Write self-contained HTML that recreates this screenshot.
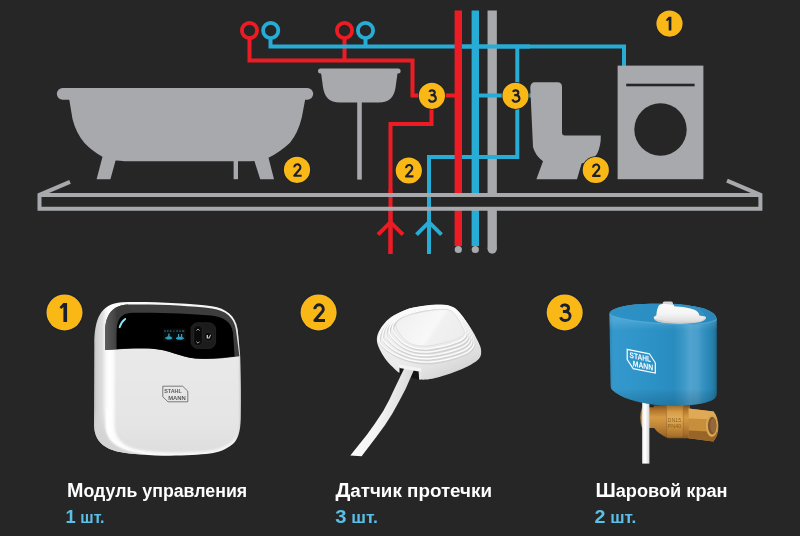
<!DOCTYPE html>
<html lang="ru">
<head>
<meta charset="utf-8">
<title>Stahlmann</title>
<style>
html,body{margin:0;padding:0;background:#262626;}
body{width:800px;height:536px;overflow:hidden;font-family:"Liberation Sans",sans-serif;}
svg{display:block;will-change:transform;}
.t{font-family:"Liberation Sans",sans-serif;font-weight:bold;font-size:18px;fill:#ffffff;}
.t .c{font-size:20px;}
.q{font-family:"Liberation Sans",sans-serif;font-weight:bold;font-size:16.8px;fill:#5bc0e7;}
.q .n{font-size:19.2px;}
.bn{font-family:"Liberation Sans",sans-serif;font-weight:bold;fill:#1d2230;text-anchor:middle;}
</style>
</head>
<body>
<svg width="800" height="536" viewBox="0 0 800 536">
<rect width="800" height="536" fill="#262626"/>

<!-- ============ TOP DIAGRAM ============ -->
<g id="diagram" fill="none">
  <!-- red thin -->
  <g stroke="#ed1c24" stroke-width="4" stroke-linejoin="miter">
    <path d="M249.5 39 V60.5 H412.5 V95.5 H458"/>
    <path d="M344.5 39 V60.5"/>
    <path d="M431.5 95.5 V124 H390.5 V254"/>
  </g>
  <!-- blue horizontal supply (behind mains) -->
  <g stroke="#27acd6" stroke-width="4" stroke-linejoin="miter">
    <path d="M270.5 39 V46.5 H624 V66"/>
    <path d="M365.5 39 V46.5"/>
    <path d="M517.3 46.5 V157 H429 V254"/>
  </g>
  <!-- mains -->
  <path d="M458.3 10.5 V246" stroke="#ed1c24" stroke-width="7.4"/>
  <path d="M475.3 10.5 V246" stroke="#27acd6" stroke-width="7.4"/>
  <path d="M492.2 10.5 V249" stroke="#a7a9ac" stroke-width="9.3" stroke-linecap="butt"/>
  <circle cx="492.2" cy="249" r="4.65" fill="#a7a9ac"/>
  <circle cx="458.3" cy="249.5" r="3.6" fill="#a7a9ac"/>
  <circle cx="475.3" cy="249.5" r="3.6" fill="#a7a9ac"/>
  <!-- blue horizontals in front of blue/grey mains -->
  <g stroke="#27acd6" stroke-width="4">
    <path d="M462 46.5 H530"/>
    <path d="M475 95.5 H531"/>
    <path d="M462 157 H519"/>
  </g>
  <!-- slab fill hides mains -->
  <rect x="39.5" y="194.9" width="721" height="14" fill="#262626"/>
  <!-- thin branches over slab fill -->
  <path d="M390.5 190 V254" stroke="#ed1c24" stroke-width="4"/>
  <path d="M429 190 V254" stroke="#27acd6" stroke-width="4"/>
  <!-- arrows -->
  <path d="M378 234.6 L390.5 222.2 L403 234.6" stroke="#ed1c24" stroke-width="4"/>
  <path d="M416.5 234.6 L429 222.2 L441.5 234.6" stroke="#27acd6" stroke-width="4"/>
  <!-- slab outline -->
  <path d="M70 181.8 L39.5 194.9 V208.8 H760.4 V194.9 L727 180.6" stroke="#a7a9ac" stroke-width="4" stroke-linejoin="miter"/>
  <path d="M39.5 194.9 H760.4" stroke="#a7a9ac" stroke-width="4"/>
  <!-- tap circles -->
  <circle cx="249.5" cy="30.5" r="7.6" stroke="#ed1c24" stroke-width="3.8"/>
  <circle cx="270.7" cy="30.5" r="7.6" stroke="#27acd6" stroke-width="3.8"/>
  <circle cx="344.5" cy="30.5" r="7.6" stroke="#ed1c24" stroke-width="3.8"/>
  <circle cx="365.5" cy="30.5" r="7.6" stroke="#27acd6" stroke-width="3.8"/>
</g>

<!-- fixtures -->
<g fill="#a7a9ac">
  <!-- bathtub -->
  <rect x="56.8" y="88" width="256.4" height="11.7" rx="5.85"/>
  <path d="M68.5 95 L72.5 119 Q76 133 84.5 143 Q92 151 102.5 156.8 L96.6 179.2 H110.4 L115.6 160.6 Q120 161 124.5 161.2 H245.5 Q250 161.2 254.4 161 L260.2 179.2 H274 L268.5 157.8 Q280 152 290 142.7 Q298 133 301.8 117.5 L306 95 Z"/>
  <rect x="233.6" y="160" width="4.4" height="19.2"/>
  <!-- sink -->
  <rect x="318" y="68.4" width="82.6" height="5" rx="2.5"/>
  <path d="M320.8 71 L322.9 86.5 C324.4 97 329 102.5 340 102.5 H378.6 C389.6 102.5 394.2 97 395.7 86.5 L397.8 71 Z"/>
  <rect x="357.2" y="100" width="4.6" height="79.6"/>
  <!-- toilet -->
  <path d="M535 82.2 H557.5 Q562 82.2 562 86.7 V133 Q562 135.4 564.4 135.4 H600.8 Q601 146 597 154 Q592 161 581.6 163.4 L577 179.2 H536.4 L543 161.2 Q535.5 156 533 147 L530.3 88 Q530.3 82.2 535 82.2 Z"/>
  <!-- washer -->
  <rect x="617.6" y="65.6" width="85.8" height="113.6"/>
</g>
<rect x="626.2" y="83.7" width="68.4" height="2.6" fill="#262626"/>
<circle cx="660.5" cy="129.5" r="26.2" fill="#262626"/>

<!-- small badges -->
<defs>
  <g id="bd">
    <circle r="19" fill="#1b2030"/>
    <circle r="18" fill="#fab817"/>
  </g>
  <g id="d1"><use href="#bd"/><path d="M-1.1 -9.5 H2.6 V9.6 H-1.1 V-5.4 L-3.2 -3.3 L-5 -5.1 Z" fill="#1b2030"/></g>
  <g id="d2"><use href="#bd"/><path d="M-3.7 -3.3 A4.2 4.2 0 1 1 4 -1.1 L-3.8 8.1 H6.4" fill="none" stroke="#1b2030" stroke-width="2.9" stroke-linejoin="round"/></g>
  <g id="d3"><use href="#bd"/><path d="M-3.5 -5.3 A3.8 3.3 0 1 1 0.3 -0.9 A4.9 4.5 0 1 1 -4.2 4.9 M-1.8 -0.9 H0.5" fill="none" stroke="#1b2030" stroke-width="2.9"/></g>
</defs>
<g id="badges">
  <use href="#d1" transform="translate(669.5 23.6) scale(0.728)"/>
  <use href="#d3" transform="translate(431.9 95.8) scale(0.728)"/>
  <use href="#d3" transform="translate(515.5 95.8) scale(0.728)"/>
  <use href="#d2" transform="translate(297 169.8) scale(0.728)"/>
  <use href="#d2" transform="translate(408.8 170.5) scale(0.728)"/>
  <use href="#d2" transform="translate(595.8 170) scale(0.728)"/>
</g>

<!-- ============ BOTTOM PRODUCTS ============ -->
<!-- ===== product 1: control module ===== -->
<defs>
  <linearGradient id="mBody" gradientUnits="userSpaceOnUse" x1="94" y1="0" x2="241" y2="0">
    <stop offset="0" stop-color="#bcbcbc"/>
    <stop offset="0.018" stop-color="#d0d0d0"/>
    <stop offset="0.055" stop-color="#dddddd"/>
    <stop offset="0.078" stop-color="#f4f4f4"/>
    <stop offset="0.1" stop-color="#ffffff"/>
    <stop offset="0.14" stop-color="#fbfbfb"/>
    <stop offset="0.95" stop-color="#f4f4f4"/>
    <stop offset="0.985" stop-color="#dcdcdc"/>
    <stop offset="1" stop-color="#c0c0c0"/>
  </linearGradient>
  <linearGradient id="mFace" gradientUnits="userSpaceOnUse" x1="0" y1="350" x2="0" y2="453">
    <stop offset="0" stop-color="#e9e9e9"/>
    <stop offset="0.7" stop-color="#e5e5e5"/>
    <stop offset="1" stop-color="#dedede"/>
  </linearGradient>
  <linearGradient id="mGlossL" gradientUnits="userSpaceOnUse" x1="105" y1="0" x2="117" y2="0">
    <stop offset="0" stop-color="#5c5c5c"/>
    <stop offset="0.75" stop-color="#474747"/>
    <stop offset="1" stop-color="#3a3a3a"/>
  </linearGradient>
  <linearGradient id="mBev" gradientUnits="userSpaceOnUse" x1="0" y1="408" x2="0" y2="432">
    <stop offset="0" stop-color="#d8d8d8" stop-opacity="0"/>
    <stop offset="1" stop-color="#d4d4d4" stop-opacity="1"/>
  </linearGradient>
  <filter id="mBlur" x="-5%" y="-5%" width="110%" height="110%"><feGaussianBlur stdDeviation="0.9"/></filter>
  <clipPath id="mClip"><path d="M94.3 345 C94.3 320 100 303.5 122 302.3 C150 301.5 190 303.5 212 306.3 C226 308.4 235.6 316 237.6 329 L240.2 356 C241 380 241.2 400 240.8 418 C240.4 432 238 440 232.2 444.6 C226 449.6 219 452.4 210 453.6 C200 454.9 185 455.6 170 455.8 C150 455.6 130 454 120 452 C105 449 94.5 442 94 425 Z"/></clipPath>
</defs>
<g id="module">
  <path d="M94.3 345 C94.3 320 100 303.5 122 302.3 C150 301.5 190 303.5 212 306.3 C226 308.4 235.6 316 237.6 329 L240.2 356 C241 380 241.2 400 240.8 418 C240.4 432 238 440 232.2 444.6 C226 449.6 219 452.4 210 453.6 C200 454.9 185 455.6 170 455.8 C150 455.6 130 454 120 452 C105 449 94.5 442 94 425 Z" fill="url(#mBody)"/>
  <g clip-path="url(#mClip)">
    <!-- corner bevel -->
    <path d="M93 408 L93 425 C93.5 444 105 450 120 453 C127 454.4 134 455.2 142 455.6 L142 453.4 C131 451.6 121.6 449 115.6 444.6 C109 440 105.6 433.4 105 426 L104.8 408 Z" fill="url(#mBev)" filter="url(#mBlur)"/>
    <path d="M107.6 408 L107.8 426 C108.4 433 111.4 439 117 443.2 C123 447.6 132 450.6 144 452.2" fill="none" stroke="#ffffff" stroke-width="2.6" filter="url(#mBlur)"/>
    <!-- front face -->
    <path d="M114.6 330 L114.6 425 C115 438 122 446 137 449.4 C150 451.8 165 452.4 175 452.4 C190 452.2 203 451.4 210 450.4 C222 448.8 232 444 236 436 C238.6 430 239.2 422 239.2 415 L238.6 330 Z" fill="url(#mFace)" filter="url(#mBlur)"/>
    <!-- glossy panel: grey rim -->
    <path d="M105 350 V334 C105 316 111 305.4 128 304.6 C150 303.8 190 305.4 212 308.4 C226 310.6 234 317 236 330 L239.4 356.2 C225 358.2 210 359.6 195.5 358.6 C180 357.4 170 349.6 150 348.6 C135 348.2 120 349 105 350 Z" fill="#3d3d3d"/>
    <path d="M105 350 V334 C105 316 111 305.4 128 304.6 L132 312.6 C121 313.4 116.6 320 116.6 334 V349.2 Z" fill="url(#mGlossL)"/>
  </g>
  <!-- black inner -->
  <path d="M116.6 349.2 V334 C116.6 320 120 313.4 132 312.8 C150 312.2 190 313.2 211 315.6 C224 317.2 231.6 322 233 333 L234.6 356.6 C222 358.2 209 359.4 195.5 358.4 C180 357.2 170 349.4 150 348.4 C138 348 127 348.6 116.6 349.2 Z" fill="#000"/>
  <!-- LED -->
  <path d="M119.6 327.2 Q121 322 125.2 318.9" fill="none" stroke="#8fe6f7" stroke-width="1.9" stroke-linecap="round"/>
  <!-- display -->
  <rect x="163.2" y="328.6" width="22.6" height="12.8" rx="0.8" fill="#0b0b0b"/>
  <g fill="#2b9fc4">
    <g opacity="0.7"><rect x="164.2" y="330.4" width="1.5" height="1.3"/><rect x="167" y="330.4" width="1.5" height="1.3"/><rect x="169.8" y="330.4" width="1.5" height="1.3"/><rect x="173.2" y="330.6" width="1.2" height="1.1"/><rect x="176.4" y="330.4" width="1.5" height="1.3"/><rect x="179.2" y="330.4" width="1.5" height="1.3"/><rect x="182" y="330.4" width="2.2" height="1.3"/></g>
    <rect x="166.4" y="336.6" width="5" height="3" rx="0.8"/><rect x="168.2" y="333.6" width="1.4" height="3.4"/><rect x="165.2" y="337.4" width="1.6" height="1.4"/><rect x="171" y="337.4" width="1.2" height="1.4"/>
    <rect x="177" y="336.8" width="5.8" height="3" rx="0.8"/><rect x="178" y="334" width="1.2" height="3"/><rect x="181" y="334" width="1.2" height="3"/><rect x="176" y="337.6" width="1.4" height="1.4"/><rect x="182.4" y="337.6" width="1.4" height="1.4"/>
  </g>
  <!-- buttons -->
  <rect x="191" y="322.8" width="24.6" height="25.6" rx="6.5" fill="#1c1c1c" stroke="#272727" stroke-width="0.8"/>
  <rect x="193.6" y="325.6" width="8.8" height="20.2" rx="4.2" fill="#0b0b0b" stroke="#2e2e2e" stroke-width="0.7"/>
  <circle cx="208.4" cy="336.6" r="4.5" fill="#0c0c0c" stroke="#303030" stroke-width="0.7"/>
  <path d="M196.4 330.6 L198 329 L199.6 330.6 M196.4 341.6 L198 343.2 L199.6 341.6" fill="none" stroke="#b4b4b4" stroke-width="0.9"/>
  <path d="M206.6 335 H208 V337.4 H208.8 L210.2 334.6 L211 335 L209.6 338.4 H206.6 Z" fill="#c4c4c4"/>
  <!-- logo -->
  <path d="M162.8 386.2 H182.6 L187.8 391.2 V401.8 H168 L162.8 396.8 Z" fill="none" stroke="#606060" stroke-width="0.8"/>
  <g font-family="Liberation Sans, sans-serif" font-weight="bold" font-size="5.9" fill="#5a5a5a">
    <text x="164.2" y="393.2" textLength="17.6" lengthAdjust="spacingAndGlyphs">STAHL</text>
    <text x="168.2" y="399.9" textLength="17.6" lengthAdjust="spacingAndGlyphs">MANN</text>
  </g>
</g>

<!-- ===== product 2: leak sensor ===== -->
<defs>
  <linearGradient id="sBody" gradientUnits="userSpaceOnUse" x1="410" y1="305" x2="445" y2="382">
    <stop offset="0" stop-color="#f0f0f0"/>
    <stop offset="0.6" stop-color="#eaeaea"/>
    <stop offset="0.8" stop-color="#e0e0e0"/>
    <stop offset="1" stop-color="#d2d2d2"/>
  </linearGradient>
  <linearGradient id="sTop" gradientUnits="userSpaceOnUse" x1="400" y1="312" x2="455" y2="348">
    <stop offset="0" stop-color="#f0f0f0"/>
    <stop offset="0.55" stop-color="#f8f8f8"/>
    <stop offset="0.62" stop-color="#f1f1f1"/>
    <stop offset="1" stop-color="#ededed"/>
  </linearGradient>
  <linearGradient id="sCable" x1="0" y1="0" x2="1" y2="0.25">
    <stop offset="0" stop-color="#ffffff"/>
    <stop offset="0.55" stop-color="#f4f4f4"/>
    <stop offset="1" stop-color="#d6d6d6"/>
  </linearGradient>
  <filter id="sBlur" x="-10%" y="-10%" width="120%" height="120%"><feGaussianBlur stdDeviation="0.55"/></filter>
</defs>
<g id="sensor">

  <path d="M441.3 304.6 C445.6 304.9 448.7 305.1 452.0 306.9 C455.3 308.7 458.1 311.9 461.2 315.3 C464.3 318.7 467.6 323.2 470.4 327.5 C473.2 331.8 476.2 337.5 478.0 341.3 C479.8 345.1 481.0 347.6 481.1 350.5 C481.2 353.4 481.4 356.1 478.8 358.9 C476.2 361.7 470.5 364.9 465.8 367.3 C461.1 369.7 455.6 371.6 450.5 373.4 C445.4 375.2 439.3 377.0 435.2 378.0 C431.1 379.0 428.5 379.4 426.0 379.6 C423.5 379.8 422.9 379.9 420.2 379.3 C417.5 378.8 413.4 377.4 410.0 376.3 C406.6 375.2 402.5 374.5 399.6 373.0 C396.7 371.5 395.1 369.5 392.7 367.1 C390.3 364.7 387.4 361.7 385.2 358.7 C383.0 355.7 381.0 352.3 379.6 349.3 C378.2 346.3 377.1 343.4 376.9 340.5 C376.7 337.6 377.3 335.0 378.6 332.1 C379.9 329.2 382.1 325.7 384.7 322.9 C387.2 320.1 389.8 317.7 393.9 315.3 C398.0 312.9 403.8 310.0 409.2 308.4 C414.6 306.8 420.6 306.0 426.0 305.4 C431.4 304.8 437.0 304.4 441.3 304.6Z" fill="url(#sBody)"/>
  <path d="M399.6 366.6 L419.4 370.6 L419.6 380 L399.4 374 Z" fill="#141414"/>
  <path d="M404.4 368 L395.4 386.7 Q389.5 400 383.1 411.3 Q375 424 366.7 434.9 L350.3 455.5 L361.6 456.2 L377 436 Q385.5 425 392.4 413.4 Q399.5 401 405.7 388.7 L413.9 370 Z" fill="url(#sCable)"/>
  <path d="M398.6 364.2 L421 368.2 Q421.6 370 421.2 372 L418.6 371.6 L399.6 368 Q398.2 366 398.6 364.2 Z" fill="#f3f3f3"/>
  <path d="M418.6 371.4 L421.2 371.8 L421.4 379.4 L419.2 379.4 Z" fill="#e4e4e4"/>
  <g fill="none" filter="url(#sBlur)">
    <path d="M441.7 307.0 C446.3 307.3 450.4 307.4 454.0 309.3 C457.5 311.2 460.3 314.8 463.1 318.5 C465.9 322.2 468.9 327.0 470.8 331.5 C472.7 336.0 474.9 341.7 474.6 345.3 C474.4 348.8 472.2 350.7 469.3 352.9 C466.3 355.1 461.6 356.7 457.0 358.3 C452.4 359.8 446.6 361.2 441.7 362.1 C436.9 363.0 432.8 363.6 427.9 363.6 C423.1 363.6 417.5 363.1 412.6 362.1 C407.8 361.1 403.0 359.3 398.9 357.5 C394.8 355.7 391.2 353.7 388.2 351.4 C385.1 349.1 381.8 346.3 380.5 343.7 C379.2 341.2 379.8 338.9 380.5 336.1 C381.3 333.3 382.8 329.8 385.1 326.9 C387.4 324.0 390.2 321.2 394.3 318.5 C398.4 315.8 404.2 312.6 409.6 310.8 C414.9 309.1 421.1 308.4 426.4 307.8 C431.8 307.1 437.1 306.8 441.7 307.0Z" stroke="#d2d2d2" stroke-width="1.7"/>
    <path d="M441.0 305.6 C445.6 305.9 449.7 306.0 453.3 307.9 C456.8 309.8 459.6 313.4 462.4 317.1 C465.2 320.8 468.2 325.6 470.1 330.1 C472.0 334.6 474.2 340.3 473.9 343.9 C473.7 347.4 471.5 349.3 468.6 351.5 C465.6 353.7 460.9 355.3 456.3 356.9 C451.7 358.4 445.9 359.8 441.0 360.7 C436.2 361.6 432.1 362.2 427.2 362.2 C422.4 362.2 416.8 361.7 411.9 360.7 C407.1 359.7 402.3 357.9 398.2 356.1 C394.1 354.3 390.5 352.3 387.5 350.0 C384.4 347.7 381.1 344.9 379.8 342.3 C378.5 339.8 379.1 337.5 379.8 334.7 C380.6 331.9 382.1 328.4 384.4 325.5 C386.7 322.6 389.5 319.8 393.6 317.1 C397.7 314.4 403.5 311.2 408.9 309.4 C414.2 307.7 420.4 307.0 425.7 306.4 C431.1 305.7 436.4 305.4 441.0 305.6Z" stroke="#fcfcfc" stroke-width="1.3"/>
    <path d="M441.7 307.7 C446.2 307.9 450.0 308.0 453.3 309.8 C456.7 311.5 459.3 314.9 461.9 318.3 C464.5 321.8 467.3 326.5 469.1 330.6 C470.9 334.7 472.9 339.7 472.6 343.0 C472.3 346.2 470.2 348.0 467.4 350.0 C464.6 352.0 460.2 353.6 455.8 355.0 C451.4 356.4 445.7 357.8 441.1 358.7 C436.5 359.5 432.6 360.2 427.9 360.3 C423.3 360.3 417.8 359.9 413.3 358.9 C408.7 357.9 404.3 356.2 400.6 354.4 C396.8 352.7 393.5 350.6 390.8 348.3 C388.0 346.1 385.1 343.4 383.9 341.0 C382.7 338.6 383.1 336.5 383.7 333.9 C384.4 331.4 385.7 328.4 387.9 325.8 C390.0 323.2 392.6 320.7 396.4 318.3 C400.3 316.0 405.8 313.2 410.8 311.5 C415.9 309.9 421.6 309.3 426.7 308.6 C431.9 308.0 437.3 307.5 441.7 307.7Z" stroke="#d2d2d2" stroke-width="1.7"/>
    <path d="M441.0 306.3 C445.5 306.5 449.3 306.6 452.6 308.4 C456.0 310.1 458.6 313.5 461.2 316.9 C463.8 320.4 466.6 325.1 468.4 329.2 C470.2 333.3 472.2 338.3 471.9 341.6 C471.6 344.8 469.5 346.6 466.7 348.6 C463.9 350.6 459.5 352.2 455.1 353.6 C450.7 355.0 445.0 356.4 440.4 357.3 C435.8 358.1 431.9 358.8 427.2 358.9 C422.6 358.9 417.1 358.5 412.6 357.5 C408.0 356.5 403.6 354.8 399.9 353.0 C396.1 351.3 392.8 349.2 390.1 346.9 C387.3 344.7 384.4 342.0 383.2 339.6 C382.0 337.2 382.4 335.1 383.0 332.5 C383.7 330.0 385.0 327.0 387.2 324.4 C389.3 321.8 391.9 319.3 395.7 316.9 C399.6 314.6 405.1 311.8 410.1 310.1 C415.2 308.5 420.9 307.9 426.0 307.2 C431.2 306.6 436.6 306.1 441.0 306.3Z" stroke="#fcfcfc" stroke-width="1.3"/>
    <path d="M441.7 308.4 C446.0 308.5 449.6 308.6 452.7 310.2 C455.9 311.9 458.2 314.9 460.7 318.2 C463.1 321.4 465.8 325.9 467.4 329.7 C469.1 333.4 470.9 337.8 470.6 340.7 C470.3 343.6 468.3 345.3 465.6 347.1 C462.9 348.9 458.7 350.4 454.6 351.7 C450.4 353.1 444.9 354.4 440.5 355.2 C436.1 356.1 432.4 356.8 427.9 356.9 C423.5 357.0 418.2 356.6 413.9 355.7 C409.6 354.8 405.7 353.1 402.2 351.4 C398.8 349.7 395.9 347.5 393.4 345.3 C390.9 343.1 388.3 340.5 387.3 338.2 C386.2 336.0 386.4 334.0 386.9 331.8 C387.5 329.6 388.7 327.0 390.6 324.8 C392.6 322.5 395.0 320.3 398.6 318.2 C402.1 316.1 407.3 313.7 412.0 312.3 C416.8 310.8 422.1 310.1 427.0 309.4 C432.0 308.8 437.4 308.2 441.7 308.4Z" stroke="#d2d2d2" stroke-width="1.7"/>
    <path d="M441.0 307.0 C445.3 307.1 448.9 307.2 452.0 308.8 C455.2 310.5 457.5 313.5 460.0 316.8 C462.4 320.0 465.1 324.5 466.7 328.3 C468.4 332.0 470.2 336.4 469.9 339.3 C469.6 342.2 467.6 343.9 464.9 345.7 C462.2 347.5 458.0 349.0 453.9 350.3 C449.7 351.7 444.2 353.0 439.8 353.8 C435.4 354.7 431.7 355.4 427.2 355.5 C422.8 355.6 417.5 355.2 413.2 354.3 C408.9 353.4 405.0 351.7 401.5 350.0 C398.1 348.3 395.2 346.1 392.7 343.9 C390.2 341.7 387.6 339.1 386.6 336.8 C385.5 334.6 385.7 332.6 386.2 330.4 C386.8 328.2 388.0 325.6 389.9 323.4 C391.9 321.1 394.3 318.9 397.9 316.8 C401.4 314.7 406.6 312.3 411.3 310.9 C416.1 309.4 421.4 308.7 426.3 308.0 C431.3 307.4 436.7 306.8 441.0 307.0Z" stroke="#fcfcfc" stroke-width="1.3"/>
    <path d="M441.7 309.0 C445.8 309.1 449.2 309.2 452.1 310.7 C455.1 312.2 457.2 315.0 459.5 318.0 C461.7 321.0 464.2 325.4 465.7 328.7 C467.3 332.1 469.0 335.8 468.6 338.4 C468.3 341.0 466.3 342.5 463.7 344.2 C461.2 345.9 457.3 347.2 453.3 348.4 C449.4 349.7 444.1 351.0 439.9 351.8 C435.6 352.7 432.2 353.4 427.9 353.5 C423.7 353.6 418.5 353.3 414.5 352.5 C410.5 351.6 407.0 350.0 403.9 348.3 C400.8 346.6 398.2 344.3 396.0 342.2 C393.8 340.1 391.6 337.6 390.6 335.5 C389.6 333.4 389.7 331.6 390.2 329.7 C390.6 327.7 391.6 325.6 393.4 323.7 C395.1 321.8 397.4 319.8 400.7 318.0 C404.0 316.2 408.8 314.3 413.3 313.0 C417.7 311.7 422.6 310.9 427.3 310.3 C432.1 309.6 437.6 309.0 441.7 309.0Z" stroke="#d2d2d2" stroke-width="1.7"/>
    <path d="M441.0 307.6 C445.1 307.7 448.5 307.8 451.4 309.3 C454.4 310.8 456.5 313.6 458.8 316.6 C461.0 319.6 463.5 324.0 465.0 327.3 C466.6 330.7 468.3 334.4 467.9 337.0 C467.6 339.6 465.6 341.1 463.0 342.8 C460.5 344.5 456.6 345.8 452.6 347.0 C448.7 348.3 443.4 349.6 439.2 350.4 C434.9 351.3 431.5 352.0 427.2 352.1 C423.0 352.2 417.8 351.9 413.8 351.1 C409.8 350.2 406.3 348.6 403.2 346.9 C400.1 345.2 397.5 342.9 395.3 340.8 C393.1 338.7 390.9 336.2 389.9 334.1 C388.9 332.0 389.0 330.2 389.5 328.3 C389.9 326.3 390.9 324.2 392.7 322.3 C394.4 320.4 396.7 318.4 400.0 316.6 C403.3 314.8 408.1 312.9 412.6 311.6 C417.0 310.3 421.9 309.5 426.6 308.9 C431.4 308.2 436.9 307.6 441.0 307.6Z" stroke="#fcfcfc" stroke-width="1.3"/>
    <path d="M441.7 309.7 C445.7 309.7 448.8 309.8 451.5 311.2 C454.3 312.5 456.1 315.1 458.2 317.9 C460.3 320.7 462.6 324.8 464.1 327.8 C465.5 330.9 467.0 333.8 466.7 336.1 C466.3 338.3 464.3 339.8 461.9 341.3 C459.5 342.8 455.9 344.0 452.1 345.2 C448.3 346.4 443.3 347.6 439.3 348.4 C435.2 349.2 432.0 350.0 427.9 350.2 C423.9 350.3 418.8 350.1 415.1 349.2 C411.4 348.4 408.4 347.0 405.6 345.3 C402.9 343.6 400.5 341.2 398.6 339.1 C396.6 337.1 394.8 334.7 394.0 332.7 C393.1 330.8 393.0 329.2 393.4 327.5 C393.7 325.8 394.5 324.2 396.1 322.6 C397.7 321.0 399.8 319.4 402.9 317.9 C405.9 316.4 410.4 314.8 414.5 313.7 C418.6 312.5 423.1 311.7 427.6 311.1 C432.2 310.4 437.7 309.7 441.7 309.7Z" stroke="#d2d2d2" stroke-width="1.7"/>
    <path d="M441.0 308.3 C445.0 308.3 448.1 308.4 450.8 309.8 C453.6 311.1 455.4 313.7 457.5 316.5 C459.6 319.3 461.9 323.4 463.4 326.4 C464.8 329.5 466.3 332.4 466.0 334.7 C465.6 336.9 463.6 338.4 461.2 339.9 C458.8 341.4 455.2 342.6 451.4 343.8 C447.6 345.0 442.6 346.2 438.6 347.0 C434.5 347.8 431.3 348.6 427.2 348.8 C423.2 348.9 418.1 348.7 414.4 347.8 C410.7 347.0 407.7 345.6 404.9 343.9 C402.2 342.2 399.8 339.8 397.9 337.7 C395.9 335.7 394.1 333.3 393.3 331.3 C392.4 329.4 392.3 327.8 392.7 326.1 C393.0 324.4 393.8 322.8 395.4 321.2 C397.0 319.6 399.1 318.0 402.2 316.5 C405.2 315.0 409.7 313.4 413.8 312.3 C417.9 311.1 422.4 310.3 426.9 309.7 C431.5 309.0 437.0 308.3 441.0 308.3Z" stroke="#fcfcfc" stroke-width="1.3"/>
  </g>
  <path d="M441.3 309.5 C445.1 309.4 447.9 309.5 450.5 310.7 C453.0 311.9 454.7 314.3 456.6 316.8 C458.5 319.4 460.7 323.3 462.0 326.0 C463.2 328.7 464.6 331.0 464.3 332.9 C463.9 334.8 462.0 336.1 459.7 337.5 C457.4 338.8 454.1 339.9 450.5 341.0 C446.9 342.1 442.1 343.2 438.3 344.1 C434.4 344.9 431.4 345.7 427.5 345.9 C423.7 346.1 418.7 345.9 415.3 345.1 C411.9 344.4 409.3 343.0 406.9 341.3 C404.5 339.6 402.4 337.2 400.8 335.2 C399.1 333.1 397.7 330.9 396.9 329.1 C396.2 327.3 395.9 325.9 396.2 324.5 C396.4 323.1 397.1 321.9 398.5 320.7 C399.9 319.4 401.8 318.0 404.6 316.8 C407.4 315.6 411.5 314.4 415.3 313.5 C419.1 312.5 423.2 311.7 427.5 311.0 C431.9 310.4 437.5 309.5 441.3 309.5Z" fill="url(#sTop)" stroke="#dcdcdc" stroke-width="0.7"/>
</g>

<!-- ===== product 3: ball valve ===== -->
<defs>
  <linearGradient id="vBody" gradientUnits="userSpaceOnUse" x1="609.4" y1="0" x2="716.8" y2="0">
    <stop offset="0" stop-color="#2b86b8"/>
    <stop offset="0.035" stop-color="#3598cc"/>
    <stop offset="0.2" stop-color="#3196ca"/>
    <stop offset="0.45" stop-color="#2b90c4"/>
    <stop offset="0.6" stop-color="#298cbf"/>
    <stop offset="0.68" stop-color="#3a96c6"/>
    <stop offset="0.75" stop-color="#4fa3ce"/>
    <stop offset="0.82" stop-color="#4a9fca"/>
    <stop offset="0.88" stop-color="#3390c0"/>
    <stop offset="0.93" stop-color="#2987b6"/>
    <stop offset="0.97" stop-color="#267ba6"/>
    <stop offset="1" stop-color="#206788"/>
  </linearGradient>
  <linearGradient id="vTop" gradientUnits="userSpaceOnUse" x1="612" y1="0" x2="716" y2="0">
    <stop offset="0" stop-color="#2e91c5"/>
    <stop offset="0.5" stop-color="#2b8ec2"/>
    <stop offset="1" stop-color="#2a88b8"/>
  </linearGradient>
  <linearGradient id="vShade" gradientUnits="userSpaceOnUse" x1="0" y1="320" x2="0" y2="406">
    <stop offset="0" stop-color="#9ad4ee" stop-opacity="0.25"/>
    <stop offset="0.12" stop-color="#9ad4ee" stop-opacity="0"/>
    <stop offset="0.8" stop-color="#000" stop-opacity="0"/>
    <stop offset="1" stop-color="#04263a" stop-opacity="0.22"/>
  </linearGradient>
  <linearGradient id="vBrass" gradientUnits="userSpaceOnUse" x1="0" y1="405" x2="0" y2="440">
    <stop offset="0" stop-color="#7a4e1c"/>
    <stop offset="0.15" stop-color="#b0752c"/>
    <stop offset="0.35" stop-color="#d69a44"/>
    <stop offset="0.55" stop-color="#c58a3a"/>
    <stop offset="0.8" stop-color="#a8702c"/>
    <stop offset="1" stop-color="#805420"/>
  </linearGradient>
  <linearGradient id="vBrass2" gradientUnits="userSpaceOnUse" x1="0" y1="405" x2="0" y2="440">
    <stop offset="0" stop-color="#9a6826"/>
    <stop offset="0.2" stop-color="#d69d48"/>
    <stop offset="0.4" stop-color="#e4ae58"/>
    <stop offset="0.6" stop-color="#cd933e"/>
    <stop offset="0.85" stop-color="#ad742e"/>
    <stop offset="1" stop-color="#8a5c24"/>
  </linearGradient>
  <linearGradient id="vKnob" gradientUnits="userSpaceOnUse" x1="0" y1="301" x2="0" y2="324">
    <stop offset="0" stop-color="#ffffff"/>
    <stop offset="0.55" stop-color="#f4f4f4"/>
    <stop offset="0.8" stop-color="#e4e4e4"/>
    <stop offset="1" stop-color="#cfcfcf"/>
  </linearGradient>
  <linearGradient id="vCable" gradientUnits="userSpaceOnUse" x1="642" y1="0" x2="649.4" y2="0">
    <stop offset="0" stop-color="#ededed"/>
    <stop offset="0.45" stop-color="#ffffff"/>
    <stop offset="1" stop-color="#d4d4d4"/>
  </linearGradient>
</defs>
<g id="valve">
  <!-- brass body -->
  <path d="M642 407.2 H654.6 V428 H642 Q640.4 424 640.4 417.6 Q640.4 411 642 407.2 Z" fill="url(#vBrass)"/>
  <path d="M653.8 405.4 H690 V438.2 H668 Q658 434 653.8 427.6 Z" fill="url(#vBrass)"/>
  <rect x="666" y="404" width="17.6" height="33" fill="url(#vBrass2)"/>
  <rect x="666" y="404" width="0.9" height="33" fill="#7a4e1c" opacity="0.45"/>
  <rect x="682.8" y="404" width="0.9" height="33.4" fill="#7a4e1c" opacity="0.45"/>
  <!-- right hex nut -->
  <path d="M688.6 408.4 L713.6 411.4 Q718.4 417.6 718.4 426 Q718.4 435.6 713.4 441.4 L688.6 438.2 Z" fill="#c78e3c"/>
  <path d="M688.6 408.4 L713.6 411.4 Q716 414.6 717 419.4 L688.6 418.4 Z" fill="#dfa955"/>
  <path d="M688.6 430.4 L717.6 432 Q716.4 437.8 713.4 441.4 L688.6 438.2 Z" fill="#986528"/>
  <ellipse cx="711.8" cy="425.8" rx="5.9" ry="11.2" fill="#dba652"/>
  <ellipse cx="712.2" cy="425.6" rx="4.3" ry="8.8" fill="#7e5530"/>
  <ellipse cx="713.2" cy="425.6" rx="3" ry="7.4" fill="#946838"/>
  <g font-family="Liberation Sans, sans-serif" font-size="4.8" fill="#8a5e26">
    <text x="667.6" y="422" textLength="13.6" lengthAdjust="spacingAndGlyphs">DN15</text>
    <text x="667.6" y="428.4" textLength="13.6" lengthAdjust="spacingAndGlyphs">PN40</text>
  </g>
  <!-- cable -->
  <rect x="642.2" y="398" width="7.2" height="65.6" fill="url(#vCable)"/>
  <!-- blue actuator -->
  <path d="M609.4 314 C609.4 310 618 306.4 635 304.6 C655 302.6 690 304 704 308.6 C712.6 311.6 716.8 315.4 716.8 319.6 L716.8 394 C716.6 398.4 712 401 704 403 C694 405.2 680 406.4 668 405.8 C650 404.8 630 401 620 395.4 C613 391.4 610.8 389.6 610.6 386 Z" fill="url(#vBody)"/>
  <path d="M609.4 314 C609.4 310 618 306.4 635 304.6 C655 302.6 690 304 704 308.6 C712.6 311.6 716.8 315.4 716.8 319.6 L716.8 394 C716.6 398.4 712 401 704 403 C694 405.2 680 406.4 668 405.8 C650 404.8 630 401 620 395.4 C613 391.4 610.8 389.6 610.6 386 Z" fill="url(#vShade)"/>
  <!-- top face -->
  <path d="M609.6 314 C609.4 310 618 306.4 635 304.6 C655 302.6 690 304 704 308.6 C712.6 311.6 716.6 315.4 716.6 319.4 C713 322.6 702 324.4 687.5 324.4 C670 324.4 655 323.4 642.5 322 C630 320.4 622 318.8 616 317 C611.6 315.8 609.6 315 609.6 314 Z" fill="url(#vTop)"/>
  <path d="M609.8 314.4 C611.6 315.8 616 317.2 622 318.6 C630 320.4 640 321.8 652 322.8 C665 323.8 678 324.4 690 324.2 C702 324 712 322.6 716.4 319.8" fill="none" stroke="#55abd8" stroke-width="1.3" opacity="0.8"/>
  <!-- knob -->
  <ellipse cx="679.8" cy="317.8" rx="26.2" ry="5.6" fill="#ededed"/>
  <path d="M653.8 318.4 Q655 322.4 668 323.2 Q688 324.4 700 322.2 Q705.6 320.8 706 317.8 Q700 321.4 680 321 Q660 320.4 653.8 318.4 Z" fill="#cdcdcd"/>
  <rect x="662.6" y="301.4" width="10.4" height="4.6" rx="2" fill="#d6d6d6"/>
  <path d="M656.4 316 C656.4 312 657.6 306.6 659.4 305 C660.6 304 663 304 667 304.2 C676 304.6 688 305.8 696 308.4 C700.4 310 703 313 704 316 C704.6 318 704 319.6 702 320.6 C696 322.6 686 322.8 678 322.4 C668 321.8 660 320.4 657.4 318.4 C656.6 317.8 656.4 317 656.4 316 Z" fill="url(#vKnob)"/>
  <path d="M674 303.8 C684 304.2 694 306 699 308.4 C703 310.6 704.8 313.6 704.8 316.6 L699.4 315.6 C699 313 697.6 311.2 694.6 309.8 C690 307.8 682 306.6 674 306.2 Z" fill="#3390c2"/>
  <!-- logo -->
  <g transform="translate(626.6 348.6) skewY(11.5)">
    <path d="M0.6 0.6 H22.8 L28.7 8.4 V18.7 H6.6 L0.6 10.9 Z" fill="none" stroke="#fff" stroke-width="1.2"/>
    <g font-family="Liberation Sans, sans-serif" font-weight="bold" font-size="8.2" fill="#fff">
      <text x="3" y="8.6" textLength="21.4" lengthAdjust="spacingAndGlyphs">STAHL</text>
      <text x="6.2" y="16.4" textLength="20.4" lengthAdjust="spacingAndGlyphs">MANN</text>
    </g>
  </g>
</g>

<g id="bigbadges">
  <use href="#d1" transform="translate(64.5 312.4)"/>
  <use href="#d2" transform="translate(318.6 312.4)"/>
  <use href="#d3" transform="translate(564.7 312.4)"/>
</g>

<g id="labels">
  <g class="t">
    <text x="67" y="497.3" textLength="180.2" lengthAdjust="spacingAndGlyphs"><tspan class="c">М</tspan>одуль управления</text>
    <text x="335.4" y="497.3" textLength="156.6" lengthAdjust="spacingAndGlyphs"><tspan class="c">Д</tspan>атчик протечки</text>
    <text x="595.4" y="497.3" textLength="132.2" lengthAdjust="spacingAndGlyphs"><tspan class="c">Ш</tspan>аровой кран</text>
  </g>
  <g class="q">
    <text x="65.6" y="522.8" textLength="39" lengthAdjust="spacingAndGlyphs"><tspan class="n">1</tspan> шт.</text>
    <text x="335.2" y="522.8" textLength="42.8" lengthAdjust="spacingAndGlyphs"><tspan class="n">3</tspan> шт.</text>
    <text x="594.4" y="522.8" textLength="41.8" lengthAdjust="spacingAndGlyphs"><tspan class="n">2</tspan> шт.</text>
  </g>
</g>
</svg>
</body>
</html>
